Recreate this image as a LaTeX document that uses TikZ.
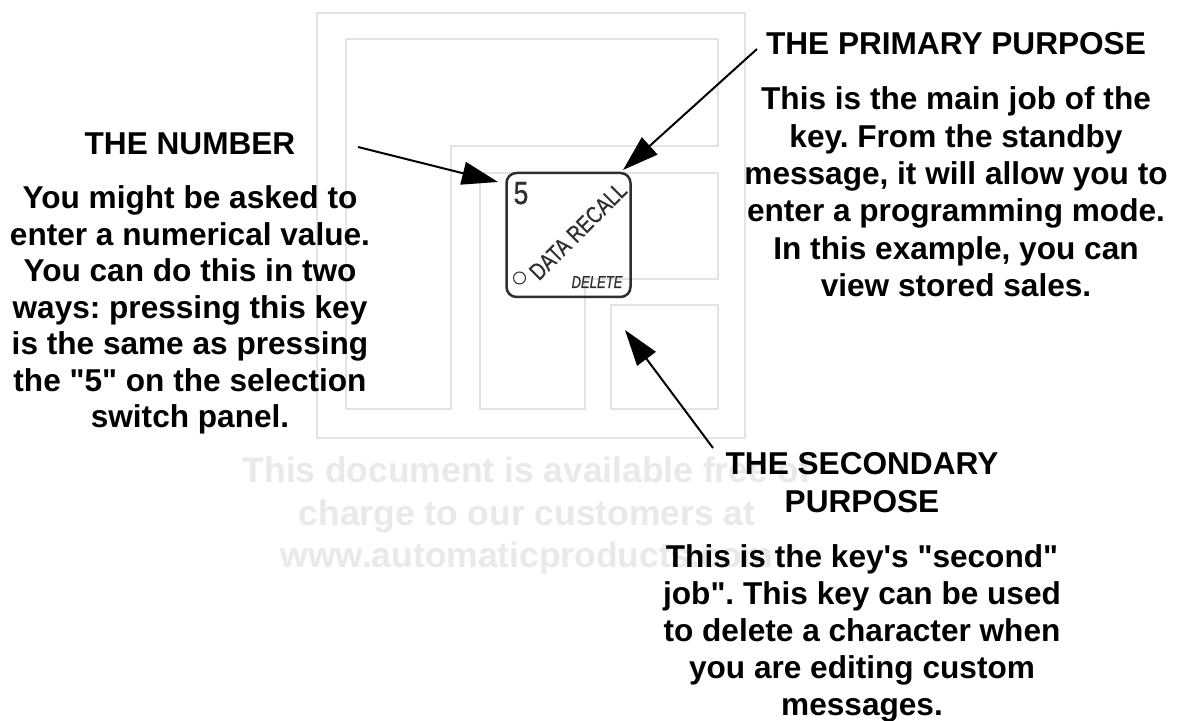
\documentclass[tikz,border=0pt]{standalone}
\usepackage{fontspec}
\setmainfont{Liberation Sans}
\newfontfamily\keyfont{Liberation Sans}[FakeBold=0.8]
\usetikzlibrary{arrows.meta}
\definecolor{wm}{HTML}{E9E9E9}
\definecolor{wmline}{HTML}{E3E3E3}
\definecolor{keyline}{HTML}{2E2E2E}
\newcommand{\dq}{\textquotedbl}
\newcommand{\sq}{\textquotesingle}
\tikzset{
  logo/.style={draw=wmline, line width=1pt},
  wmtext/.style={text=wm, inner sep=0pt, align=center,
    font=\fontsize{17.7}{21.25}\selectfont\bfseries},
  head/.style={inner sep=0pt, align=center,
    font=\fontsize{15.8}{19}\selectfont\bfseries},
  body/.style={inner sep=0pt, align=center},
  keybox/.style={draw=keyline, line width=1.25pt, rounded corners=5pt,
    minimum width=62pt, minimum height=62pt, inner sep=0pt},
  keytext/.style={inner sep=0pt, text=keyline},
  pointer/.style={draw=black, line width=1pt,
    -{Triangle[length=18pt,width=11.5pt]}},
}
\begin{document}
\frenchspacing
\begin{tikzpicture}[x=0.5pt,y=-0.5pt]
\useasboundingbox[fill=white] (0,0) rectangle (1181,721);

% faint watermark logo
\draw[logo] (317,13) rectangle (745,438);
\draw[logo] (346,39) -- (718,39) -- (718,146) -- (451,146) -- (451,409) -- (346,409) -- cycle;
\draw[logo] (480,173) -- (718,173) -- (718,279) -- (585,279) -- (585,409) -- (480,409) -- cycle;
\draw[logo] (611,305) rectangle (718,409);

% faint watermark text
\node[wmtext] (wmark) at (527,516) {This document is available free of\\charge to our customers at\\www.automaticproducts.com};

% the key
\node[keybox] (key) at (568.5,235) {};
\node[keytext, anchor=base, xscale=0.82, font=\fontsize{16}{18}\keyfont] (five) at (521,204) {5};
\node[keytext, rotate=45, xscale=0.8, font=\fontsize{11.8}{13}\keyfont] (recall) at (578,231) {DATA RECALL};
\node[keytext, anchor=base, xscale=0.76, font=\fontsize{8.6}{10}\keyfont\itshape] (delete) at (597,288) {DELETE};
\node[draw=keyline, line width=0.5pt, circle, minimum size=6pt, inner sep=0pt] (led) at (519.5,278) {};

% texts
\node[head, anchor=base] (numhead) at (190,155) {THE NUMBER};
\node[body, font=\fontsize{15.8}{18.25}\selectfont\bfseries] (numbody) at (190,310) {You might be asked to\\enter a numerical value.\\You can do this in two\\ways: pressing this key\\is the same as pressing\\the \dq5\dq{} on the selection\\switch panel.};

\node[head, anchor=base] (prihead) at (956,55) {THE PRIMARY PURPOSE};
\node[body, font=\fontsize{15.8}{18.7}\selectfont\bfseries] (pribody) at (956,192) {This is the main job of the\\key. From the standby\\message, it will allow you to\\enter a programming mode.\\In this example, you can\\view stored sales.};

\node[head] (sechead) at (862,483) {THE SECONDARY\\PURPOSE};
\node[body, font=\fontsize{15.8}{18.5}\selectfont\bfseries] (secbody) at (862,633) {This is the key\sq{}s \dq{}second\dq\\job\dq. This key can be used\\to delete a character when\\you are editing custom\\messages.};

% arrows
\coordinate (numtail) at (358,147);
\coordinate (numtip) at (498,182);
\coordinate (pritail) at (757,49);
\coordinate (pritip) at (623,170);
\coordinate (sectail) at (713,448);
\coordinate (sectip) at (625,330);
\draw[pointer] (numtail) -- (numtip);
\draw[pointer] (pritail) -- (pritip);
\draw[pointer] (sectail) -- (sectip);
\end{tikzpicture}
\end{document}
